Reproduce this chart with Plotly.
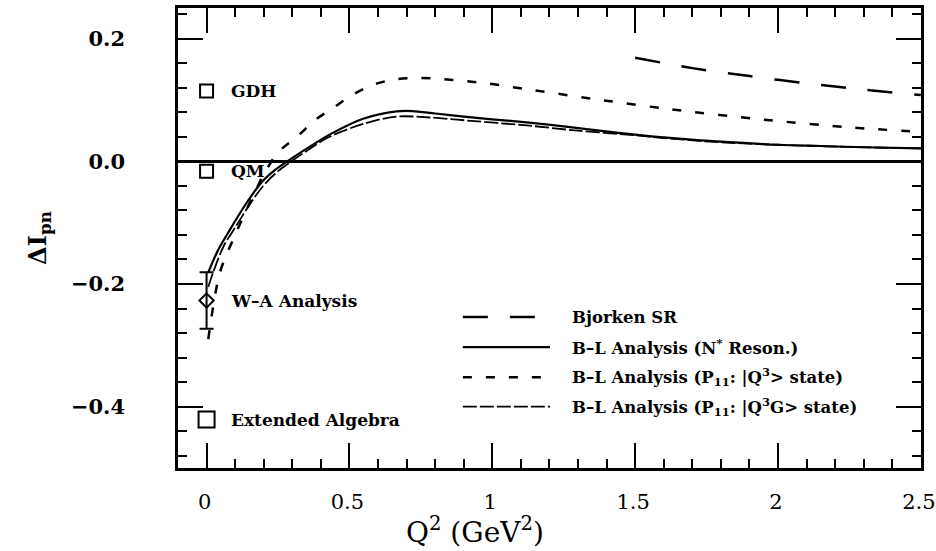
import plotly.graph_objects as go

# ---------------- data ----------------
# Bjorken sum rule (long dash)
bj_q = [1.5, 1.7, 1.9, 2.1, 2.3, 2.5]
bj_v = [0.169, 0.152, 0.139, 0.127, 0.117, 0.108]

# B-L Analysis (N* Reson.)  (solid)
nr_q = [0.006, 0.04, 0.076, 0.134, 0.193, 0.24, 0.286, 0.368, 0.44, 0.548, 0.665,
        0.72, 0.8, 0.9, 1.0, 1.12, 1.25, 1.45, 1.6, 1.8, 2.0, 2.15, 2.3, 2.5]
nr_v = [-0.181, -0.145, -0.116, -0.072, -0.034, -0.014, 0.001, 0.026, 0.046, 0.0695, 0.0815,
        0.082, 0.078, 0.073, 0.0685, 0.0635, 0.057, 0.046, 0.039, 0.032, 0.027, 0.025, 0.023, 0.021]

# B-L Analysis (P11: |Q3> state)  (short dash)
q3_q = [0.006, 0.047, 0.099, 0.169, 0.204, 0.251, 0.321, 0.379, 0.449, 0.513, 0.583, 0.665,
        0.747, 0.828, 0.91, 0.986, 1.068, 1.144, 1.389, 1.622, 1.949, 2.264, 2.5]
q3_v = [-0.29, -0.181, -0.121, -0.050, -0.018, 0.015, 0.042, 0.067, 0.089, 0.109, 0.125, 0.134,
        0.136, 0.134, 0.1305, 0.127, 0.121, 0.116, 0.0995, 0.085, 0.068, 0.055, 0.048]

# B-L Analysis (P11: |Q3G> state)  (long dash, tiny gaps)
qg_q = [0.006, 0.023, 0.06, 0.1, 0.15, 0.2, 0.25, 0.3, 0.35, 0.43, 0.548, 0.665, 0.78,
        0.9, 1.12, 1.3, 1.5, 1.6, 1.8, 2.0, 2.2, 2.5]
qg_v = [-0.205, -0.181, -0.138, -0.108, -0.071, -0.039, -0.016, 0.001, 0.017, 0.040, 0.061,
        0.073, 0.0715, 0.067, 0.0585, 0.05, 0.0425, 0.038, 0.031, 0.027, 0.024, 0.021]

# Q^2 = 0 points
pt_labels = ["GDH", "QM", "W–A Analysis", "Extended Algebra"]
pt_q = [0.0, 0.0, 0.0, 0.0]
pt_v = [0.1145, -0.016, -0.227, -0.421]
wa_err = 0.046

legend_labels = [
    "Bjorken SR",
    "B–L Analysis (N<sup>*</sup> Reson.)",
    "B–L Analysis (P<sub>11</sub>: |Q<sup>3</sup>> state)",
    "B–L Analysis (P<sub>11</sub>: |Q<sup>3</sup>G> state)",
]

# ---------------- figure ----------------
BK = "black"
SERIF = "DejaVu Serif"

fig = go.Figure()

styles = [
    (bj_q, bj_v, dict(color=BK, width=2.5, dash="25px,22px")),
    (nr_q, nr_v, dict(color=BK, width=2.2, dash="solid")),
    (q3_q, q3_v, dict(color=BK, width=2.5, dash="9px,14px")),
    (qg_q, qg_v, dict(color=BK, width=1.8, dash="14px,3px")),
]
for (xq, yv, ln), name in zip(styles, legend_labels):
    fig.add_trace(go.Scatter(x=xq, y=yv, mode="lines", line=dict(shape="spline", smoothing=0.9, **ln),
                             name=name, showlegend=False, hoverinfo="skip"))

# square markers (GDH, QM, Extended Algebra)
fig.add_trace(go.Scatter(x=[pt_q[0], pt_q[1]], y=[pt_v[0], pt_v[1]], mode="markers",
                         marker=dict(symbol="square-open", size=13, color=BK, line=dict(width=2, color=BK)),
                         showlegend=False, hoverinfo="skip"))
fig.add_trace(go.Scatter(x=[pt_q[3]], y=[pt_v[3]], mode="markers",
                         marker=dict(symbol="square-open", size=16, color=BK, line=dict(width=2, color=BK)),
                         showlegend=False, hoverinfo="skip"))
# W-A analysis diamond with error bar
fig.add_trace(go.Scatter(x=[pt_q[2]], y=[pt_v[2]], mode="markers",
                         marker=dict(symbol="diamond-open", size=11, color=BK, line=dict(width=2, color=BK)),
                         error_y=dict(type="constant", value=wa_err, thickness=2, width=7, color=BK),
                         showlegend=False, hoverinfo="skip"))

# point labels
for lab, yv in zip(pt_labels, pt_v):
    fig.add_annotation(x=0.08, y=yv, text="<b>" + lab + "</b>", showarrow=False, xanchor="left",
                       yanchor="middle", font=dict(family=SERIF, size=17, color=BK))

# manual legend
leg_y = [-0.254, -0.303, -0.352, -0.400]
for (xq, yv, ln), lab, ly in zip(styles, legend_labels, leg_y):
    fig.add_shape(type="line", x0=0.897, x1=1.202, y0=ly, y1=ly, xref="x", yref="y",
                  line=dict(color=BK, width=ln["width"], dash=ln["dash"]))
    fig.add_annotation(x=1.272, y=ly, text="<b>" + lab + "</b>", showarrow=False, xanchor="left",
                       yanchor="middle", font=dict(family=SERIF, size=16.5, color=BK))

# x-axis title (placed as in the reference, left of centre)
fig.add_annotation(x=0.40, y=-0.135, xref="paper", yref="paper", text="Q<sup>2</sup> (GeV<sup>2</sup>)",
                   showarrow=False, xanchor="center", yanchor="middle",
                   font=dict(family=SERIF, size=28, color=BK))

fig.update_layout(
    width=936, height=551,
    margin=dict(l=178, r=15, t=8, b=83),
    paper_bgcolor="white", plot_bgcolor="white",
    showlegend=False,
)
fig.update_xaxes(
    range=[-0.1, 2.5005], dtick=0.5, tick0=0,
    showline=True, linewidth=2.5, linecolor=BK, mirror="ticks",
    ticks="inside", ticklen=25, tickwidth=2, tickcolor=BK,
    minor=dict(dtick=0.1, tick0=0, ticks="inside", ticklen=9, tickwidth=2, tickcolor=BK, showgrid=False),
    showgrid=False, zeroline=False,
    tickfont=dict(family=SERIF, size=21, color=BK),
    ticklabelstandoff=13,
    ticklabelshift=-2,
    ticklabeloverflow="allow",
    automargin=False,
)
fig.update_yaxes(
    range=[-0.5, 0.25], dtick=0.2, tick0=0, tickformat=".1f",
    showline=True, linewidth=2.5, linecolor=BK, mirror="ticks",
    ticks="inside", ticklen=25, tickwidth=2, tickcolor=BK,
    minor=dict(dtick=0.04, tick0=0, ticks="inside", ticklen=9, tickwidth=2, tickcolor=BK, showgrid=False),
    showgrid=False, zeroline=True, zerolinewidth=2.5, zerolinecolor=BK,
    tickfont=dict(family=SERIF, size=21, color=BK, weight="bold"),
    ticklabelstandoff=46,
    title=dict(text="<b>ΔI<sub>pn</sub></b>", font=dict(family=SERIF, size=24, color=BK), standoff=18),
    automargin=False,
)

fig.write_html("out.html")
